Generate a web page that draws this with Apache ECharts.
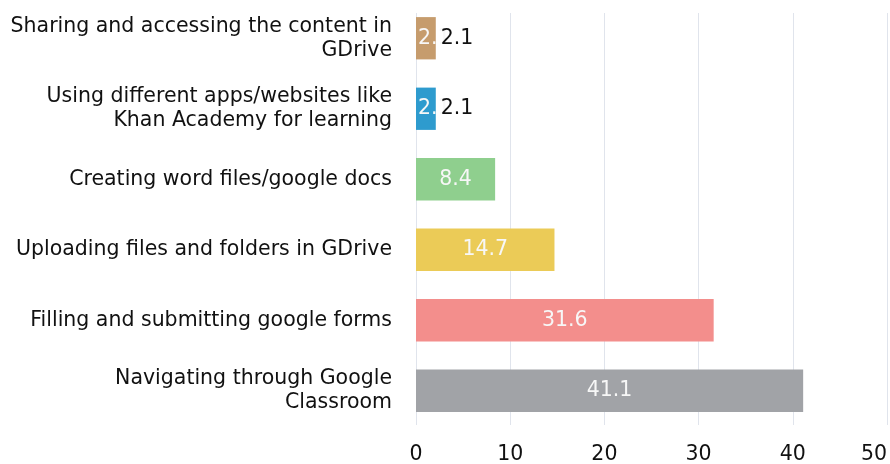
<!DOCTYPE html>
<html>
<head>
<meta charset="utf-8">
<script src="https://cdn.jsdelivr.net/npm/echarts@6/dist/echarts.min.js"></script>
<style>
html,body{margin:0;padding:0;background:#fff;}
#chart{width:890px;height:464px;}
</style>
</head>
<body>
<div id="chart"></div>
<script>
// Categories listed top to bottom
const categories = [
  'Sharing and accessing the content in\nGDrive',
  'Using different apps/websites like\nKhan Academy for learning',
  'Creating word files/google docs',
  'Uploading files and folders in GDrive',
  'Filling and submitting google forms',
  'Navigating through Google\nClassroom'
];
const values = [2.1, 2.1, 8.4, 14.7, 31.6, 41.1];
const xTicks = [0, 10, 20, 30, 40, 50];
const barColors = ['#C69C6D', '#2E9BCE', '#8FCF8E', '#EBCB57', '#F38E8C', '#A1A3A7'];

const FONT = 'DejaVu Sans';
const FS = 20.5;
const SMALL = 5;
const X_MIN = xTicks[0];
const X_MAX = xTicks[xTicks.length - 1];

const mainData = values.map((v, i) => {
  const item = { value: v, itemStyle: { color: barColors[i] } };
  if (v < SMALL) {
    item.label = { position: 'insideLeft', distance: 2 };
  }
  return item;
});
const outsideData = values.map(v => ({
  value: v,
  label: { show: v < SMALL }
}));

const chart = echarts.init(document.getElementById('chart'), null, { renderer: 'canvas' });
chart.setOption({
  animation: false,
  backgroundColor: '#ffffff',
  grid: [
    { left: 416, right: 3, top: 3, bottom: 38, containLabel: false, outerBoundsMode: 'none' },
    { left: 416, right: 3, top: 13, bottom: 39, containLabel: false, outerBoundsMode: 'none' }
  ],
  xAxis: [
    {
      type: 'value', gridIndex: 0,
      min: X_MIN, max: X_MAX, interval: 10,
      axisLine: { show: false },
      axisTick: { show: false },
      splitLine: { show: false },
      axisLabel: { show: false }
    },
    {
      type: 'value', gridIndex: 1,
      min: X_MIN, max: X_MAX, interval: 10,
      axisLine: { show: false },
      axisTick: { show: false },
      splitLine: { show: true, lineStyle: { color: '#E0E4EC', width: 1 } },
      axisLabel: { color: '#111', fontFamily: FONT, fontSize: FS, margin: 19, alignMaxLabel: 'right' }
    }
  ],
  yAxis: [
    {
      type: 'category', gridIndex: 0,
      inverse: true,
      data: categories,
      axisLine: { show: false },
      axisTick: { show: false },
      axisLabel: {
        color: '#111', fontFamily: FONT, fontSize: FS, lineHeight: 24,
        margin: 24, align: 'right'
      }
    },
    {
      type: 'value', gridIndex: 1, show: false, min: 0, max: 1
    }
  ],
  series: [
    {
      type: 'bar',
      xAxisIndex: 0, yAxisIndex: 0,
      data: mainData,
      barCategoryGap: '40%',
      barGap: '-100%',
      label: {
        show: true, position: 'inside', color: '#F7F7F7',
        fontFamily: FONT, fontSize: FS
      },
      z: 2
    },
    {
      type: 'bar',
      xAxisIndex: 0, yAxisIndex: 0,
      data: outsideData,
      barCategoryGap: '40%',
      barGap: '-100%',
      silent: true,
      itemStyle: { color: 'rgba(0,0,0,0)' },
      label: {
        position: 'right', distance: 5, color: '#111',
        fontFamily: FONT, fontSize: FS
      },
      z: 3
    }
  ]
});
</script>
</body>
</html>
